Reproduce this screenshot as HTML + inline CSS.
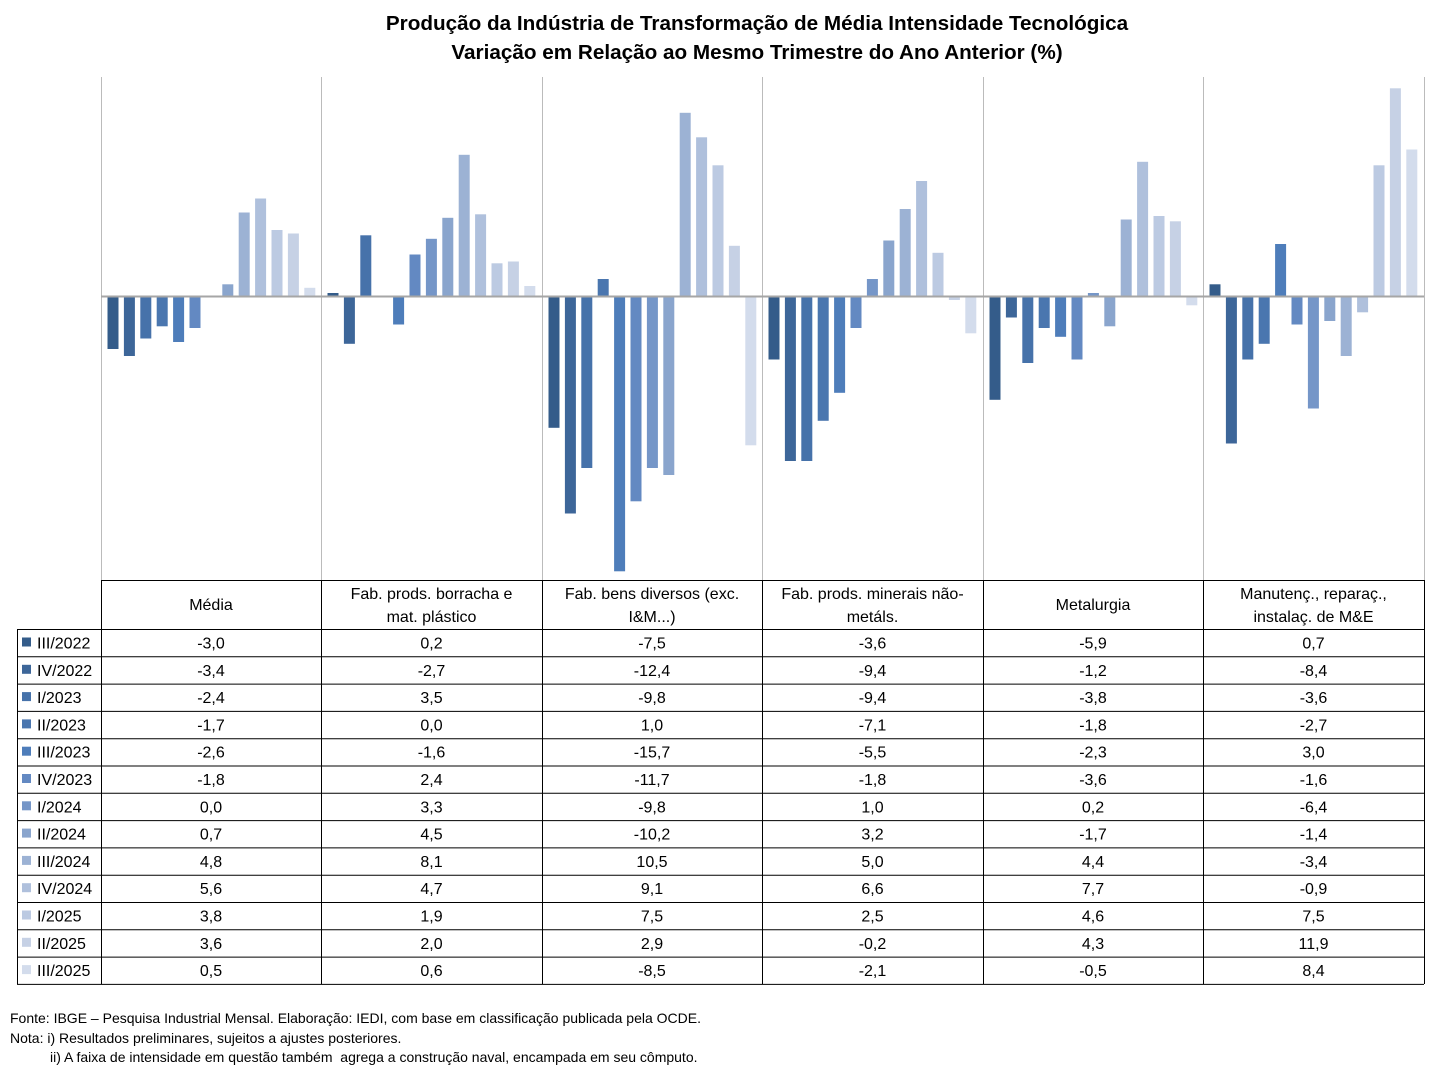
<!DOCTYPE html>
<html><head><meta charset="utf-8">
<style>
body{margin:0;background:#fff;font-family:"Liberation Sans",sans-serif;}
#w{position:relative;width:1438px;height:1076px;overflow:hidden}
.t{position:absolute;left:0;width:1514px;text-align:center;font-weight:bold;font-size:20.7px;color:#000}
.n{position:absolute;left:10px;font-size:14px;color:#000}
</style></head><body><div id="w">
<div class="t" style="top:12px">Produção da Indústria de Transformação de Média Intensidade Tecnológica</div>
<div class="t" style="top:41px">Variação em Relação ao Mesmo Trimestre do Ano Anterior (%)</div>
<svg id="s" width="1438" height="1076" style="position:absolute;left:0;top:0"></svg>
<div class="n" style="top:1010px">Fonte: IBGE – Pesquisa Industrial Mensal. Elaboração: IEDI, com base em classificação publicada pela OCDE.</div>
<div class="n" style="top:1030px">Nota: i) Resultados preliminares, sujeitos a ajustes posteriores.</div>
<div class="n" style="top:1049px;left:50px">ii) A faixa de intensidade em questão também &nbsp;agrega a construção naval, encampada em seu cômputo.</div>
</div>
<script>
const labels=["III/2022","IV/2022","I/2023","II/2023","III/2023","IV/2023","I/2024","II/2024","III/2024","IV/2024","I/2025","II/2025","III/2025"];
const cols=["#345C8A","#3D6699","#4672AA","#4A76AF","#4E7DBA","#6389C2","#7596C8","#8AA5CD","#9CB2D4","#AFC0DC","#BCCAE2","#C6D1E5","#D3DCEC"];
const heads=[["Média"],["Fab. prods. borracha e","mat. plástico"],["Fab. bens diversos (exc.","I&M...)"],["Fab. prods. minerais não-","metáls."],["Metalurgia"],["Manutenç., reparaç.,","instalaç. de M&E"]];
const data=[
[-3.0,-3.4,-2.4,-1.7,-2.6,-1.8,0.0,0.7,4.8,5.6,3.8,3.6,0.5],
[0.2,-2.7,3.5,0.0,-1.6,2.4,3.3,4.5,8.1,4.7,1.9,2.0,0.6],
[-7.5,-12.4,-9.8,1.0,-15.7,-11.7,-9.8,-10.2,10.5,9.1,7.5,2.9,-8.5],
[-3.6,-9.4,-9.4,-7.1,-5.5,-1.8,1.0,3.2,5.0,6.6,2.5,-0.2,-2.1],
[-5.9,-1.2,-3.8,-1.8,-2.3,-3.6,0.2,-1.7,4.4,7.7,4.6,4.3,-0.5],
[0.7,-8.4,-3.6,-2.7,3.0,-1.6,-6.4,-1.4,-3.4,-0.9,7.5,11.9,8.4]];
const xs=[101,321,542,762,983,1203,1424];
let h="";
const z=296.5,sc=17.5;
for(let g=0;g<6;g++){for(let i=0;i<13;i++){const v=data[g][i];const x=xs[g]+6.5+i*16.4;const y=v>=0?z-v*sc:z;h+=`<rect x="${x.toFixed(1)}" y="${y.toFixed(1)}" width="11" height="${Math.abs(v*sc).toFixed(1)}" fill="${cols[i]}"/>`;}}
for(const x of xs)h+=`<line x1="${x+.5}" y1="77" x2="${x+.5}" y2="580" stroke="#bbb"/>`;
h+=`<line x1="101" y1="${z}" x2="1424" y2="${z}" stroke="#a6a6a6" stroke-width="2"/>`;
h+=`<line x1="101" y1="580.5" x2="1424" y2="580.5" stroke="#000"/>`;
for(const x of xs)h+=`<line x1="${x+.5}" y1="580" x2="${x+.5}" y2="984" stroke="#000"/>`;
h+=`<line x1="17.5" y1="629" x2="17.5" y2="984" stroke="#000"/>`;
const rh=27.3;
for(let r=0;r<=13;r++){const y=629.5+r*rh;h+=`<line x1="17" y1="${y.toFixed(1)}" x2="1424" y2="${y.toFixed(1)}" stroke="#000"/>`;}
for(let g=0;g<6;g++){const cx=(xs[g]+xs[g+1])/2;const hd=heads[g];
 if(hd.length==1)h+=`<text x="${cx}" y="610" font-size="16" text-anchor="middle">${hd[0]}</text>`;
 else{h+=`<text x="${cx}" y="599" font-size="16" text-anchor="middle">${hd[0]}</text><text x="${cx}" y="622" font-size="16" text-anchor="middle">${hd[1].replace("&","&amp;")}</text>`;}
}
for(let r=0;r<13;r++){const y=629.5+r*rh+19;
 h+=`<rect x="22" y="${(y-11).toFixed(1)}" width="9" height="9" fill="${cols[r]}"/><text x="37" y="${y.toFixed(1)}" font-size="16">${labels[r]}</text>`;
 for(let g=0;g<6;g++){const cx=(xs[g]+xs[g+1])/2;h+=`<text x="${cx}" y="${y.toFixed(1)}" font-size="16" text-anchor="middle">${data[g][r].toFixed(1).replace(".",",")}</text>`;}}
document.getElementById("s").innerHTML=h;
</script>
</body></html>
